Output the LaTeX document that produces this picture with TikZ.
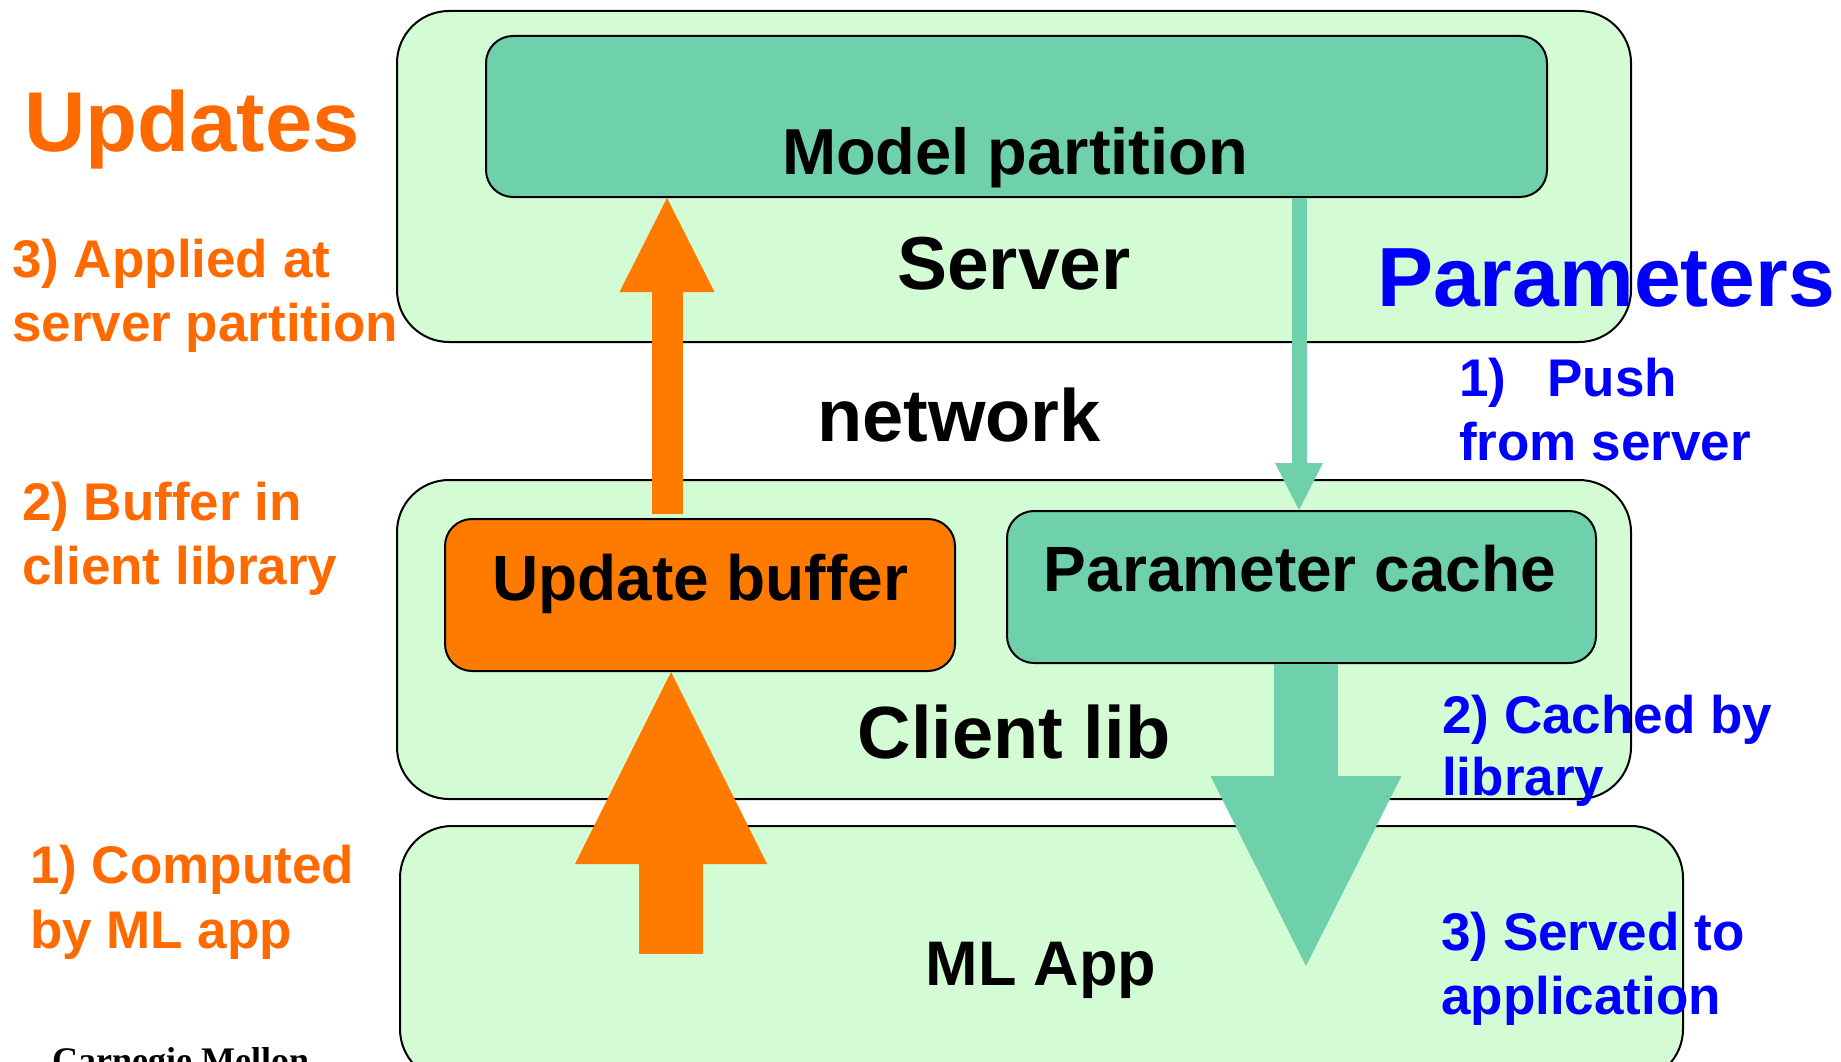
\documentclass[tikz,border=0pt]{standalone}
\usepackage{fontspec}
\setmainfont{Liberation Sans}
\newfontfamily\cmufont{Liberation Serif}
\usetikzlibrary{arrows.meta}
\definecolor{layergreen}{HTML}{D4FCD4}
\definecolor{partgreen}{HTML}{6FD0AC}
\definecolor{updorange}{HTML}{FF7B00}
\definecolor{lblorange}{HTML}{FF6A00}
\definecolor{lblblue}{HTML}{0000FF}

\begin{document}
\begin{tikzpicture}[x=1pt,y=-1pt,
  layer/.style={draw=black,line width=2pt,fill=layergreen,rounded corners=52pt,anchor=north west,inner sep=0pt},
  part/.style={draw=black,line width=2pt,rounded corners=27pt,anchor=north west,inner sep=0pt},
  title/.style={inner sep=0pt,anchor=base,font=\bfseries\fontsize{#1}{#1}\selectfont},
  updlbl/.style={inner sep=0pt,anchor=base west,text=lblorange,font=\bfseries\fontsize{53}{53}\selectfont},
  parlbl/.style={inner sep=0pt,anchor=base west,text=lblblue,font=\bfseries\fontsize{53}{53}\selectfont}]
\useasboundingbox (0,0) rectangle (1841,1062);

%layers
\node[layer,minimum width=1234pt,minimum height=331pt] (server) at (396,10) {};
\node[layer,minimum width=1234pt,minimum height=319pt] (client) at (396,479) {};
\node[layer,minimum width=1283pt,minimum height=255pt] (mlapp) at (399,825) {};
%boxes inside the layers
\node[part,fill=partgreen,minimum width=1061pt,minimum height=161pt] (mpart) at (485,35) {};
\node[part,fill=updorange,minimum width=510pt,minimum height=152pt] (ubuf) at (444,518) {};
\node[part,fill=partgreen,minimum width=589pt,minimum height=152pt] (pcache) at (1006,510) {};

\node[title=65] (mparttxt) at (1015,174) {Model partition};
\node[title=75] (servertxt) at (1014,289) {Server};
\node[title=74] (nettxt) at (959,441) {network};
\node[title=64] (ubuftxt) at (700,600) {Update buffer};
\node[title=64] (pcachetxt) at (1300,591) {Parameter cache};
\node[title=74] (clienttxt) at (1014,758) {Client lib};
\node[title=63] (mlapptxt) at (1041,985) {ML App};

%arrows
\coordinate (upsrc) at (667,514);
\coordinate (pushx) at (1299,196);
\coordinate (compsrc) at (671,954);
\coordinate (servedend) at (1306,966);
\draw[updorange,line width=31pt,-{Triangle[width=95pt,length=94pt,line width=0pt]}] (upsrc) -- (mpart.south -| upsrc);
\draw[partgreen,line width=15pt,-{Triangle[width=48pt,length=47pt,line width=0pt]}] (mpart.south -| pushx) -- (pcache.north -| pushx);
\draw[updorange,line width=64pt,-{Triangle[width=192pt,length=192pt,line width=0pt]}] (compsrc) -- (ubuf.south -| compsrc);
\draw[partgreen,line width=64pt,-{Triangle[width=191pt,length=190pt,line width=0pt]}] (pcache.south -| servedend) -- (servedend);

%updates side
\node[updlbl,font=\bfseries\fontsize{85}{85}\selectfont] (updates) at (24,151) {Updates};
\node[updlbl] (applied1) at (12,277) {3) Applied at};
\node[updlbl] (applied2) at (12,341) {server partition};
\node[updlbl] (buffer1) at (22,520) {2) Buffer in};
\node[updlbl] (buffer2) at (22,584) {client library};
\node[updlbl] (computed1) at (30,883) {1) Computed};
\node[updlbl] (computed2) at (30,948) {by ML app};

%parameters side
\node[parlbl,font=\bfseries\fontsize{84}{84}\selectfont] (params) at (1377,306) {Parameters};
\node[parlbl] (push1) at (1459,396) {1)\hspace{41pt}Push};
\node[parlbl] (push2) at (1459,460) {from server};
\node[parlbl] (cached1) at (1442,733) {2) Cached by};
\node[parlbl] (cached2) at (1442,795) {library};
\node[parlbl] (served1) at (1441,950) {3) Served to};
\node[parlbl] (served2) at (1441,1014) {application};

\node[inner sep=0pt,anchor=base west,font=\cmufont\bfseries\fontsize{36}{36}\selectfont] (cmu) at (52,1072) {Carnegie Mellon};
\end{tikzpicture}
\end{document}
